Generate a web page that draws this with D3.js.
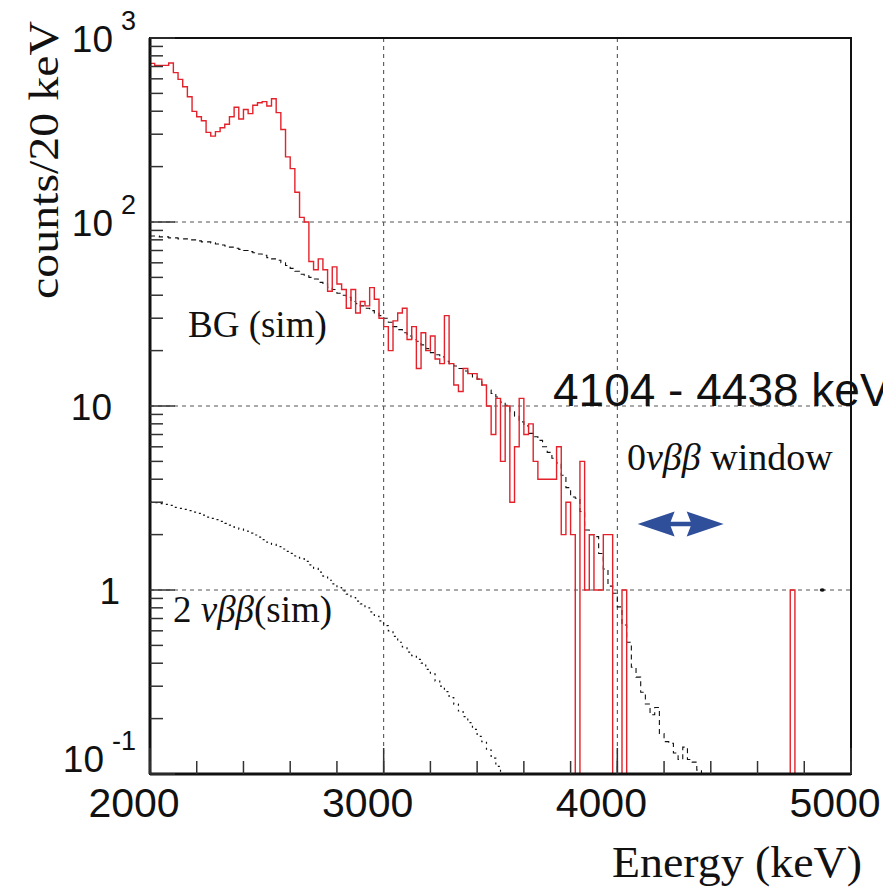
<!DOCTYPE html>
<html>
<head>
<meta charset="utf-8">
<script src="https://cdn.jsdelivr.net/npm/d3@7"></script>
<style>
  body { margin: 0; background: #fff; }
  svg { display: block; }
</style>
</head>
<body>
<div id="chart"></div>
<script>
// histogram binning (keV)
var binStart = 2000;
var binWidth = 20;

// measured spectrum, counts per 20 keV bin starting at 2000 keV
var redCounts = [
  728, 710, 710, 710, 731, 648, 596, 543, 479, 399,
  373, 355, 307, 293, 310, 325, 340, 373, 420, 363,
  409, 388, 431, 445, 451, 427, 468, 393, 318, 226,
  195, 145, 106, 100, 61, 55, 63, 55, 42, 57,
  46, 43, 34, 43, 32, 37, 35, 44, 38, 30,
  27, 20, 29, 32, 34, 23, 27, 16, 25, 20,
  24, 18, 17, 31, 17, 13, 12, 16, 15, 15,
  14, 13, 10, 7, 11, 5, 10, 3, 6, 11,
  7, 8, 5, 4, 4, 4, 4, 6, 2, 3,
  2, 0, 5, 1, 2, 1, 1, 2, 2, 0,
  0, 1, 0, 0, 0, 0, 0, 0, 0, 0,
  0, 0, 0, 0, 0, 0, 0, 0, 0, 0,
  0, 0, 0, 0, 0, 0, 0, 0, 0, 0,
  0, 0, 0, 0, 0, 0, 0, 1, 0, 0,
  0, 0, 0, 0, 0, 0, 0, 0, 0, 0
];

// simulated background (dashed)
var bgSim = [
  84, 84, 83, 83, 82, 82, 81, 81, 80, 80,
  79, 78, 78, 77, 76, 75, 74, 73, 72, 71,
  70, 69, 68, 67, 66, 64, 63, 62, 60, 58,
  56, 54, 52, 51, 50, 49, 47, 46, 44, 43,
  41, 40, 39, 37, 36, 35, 34, 33, 32, 31,
  30, 28.5, 27, 26, 25, 24, 23, 22.5, 21.5, 20.5,
  19.5, 19, 18.5, 17.5, 17, 16.5, 16, 15.5, 15, 14.4,
  14, 13, 12.2, 11.7, 11.2, 10.5, 10.1, 9.3, 8.8, 8.2,
  7.8, 7.1, 6.8, 6.5, 6.0, 5.6, 5.2, 4.9, 4.2, 3.6,
  3.2, 3.15, 2.67, 2.12, 2.0, 1.95, 1.58, 1.3, 1.05, 0.96,
  0.81, 0.645, 0.52, 0.38, 0.336, 0.278, 0.24, 0.21, 0.23, 0.166,
  0.15, 0.147, 0.13, 0.12, 0.14, 0.12, 0.116, 0.105, 0.10, 0.09
];

// simulated 2 neutrino double beta (dotted)
var twoNuSim = [
  3.0, 2.98, 2.95, 2.92, 2.88, 2.81, 2.78, 2.74, 2.70, 2.65,
  2.61, 2.55, 2.49, 2.45, 2.41, 2.36, 2.30, 2.25, 2.19, 2.14,
  2.09, 2.04, 1.99, 1.94, 1.88, 1.82, 1.77, 1.72, 1.67, 1.62,
  1.58, 1.53, 1.48, 1.43, 1.37, 1.31, 1.25, 1.19, 1.13, 1.08,
  1.03, 0.99, 0.95, 0.91, 0.87, 0.84, 0.80, 0.76, 0.72, 0.68,
  0.64, 0.60, 0.56, 0.52, 0.49, 0.46, 0.44, 0.42, 0.40, 0.37,
  0.35, 0.32, 0.30, 0.28, 0.26, 0.24, 0.22, 0.205, 0.19, 0.175,
  0.16, 0.15, 0.135, 0.122, 0.11, 0.10, 0.092
];

// axes
var xDomain = [2000, 5000];
var yDomain = [0.1, 1000];
var xMajorTicks = [2000, 3000, 4000, 5000];
var xTickLabels = ["2000", "3000", "4000", "5000"];
var yTickVals = [0.1, 1, 10, 100, 1000];
var yTickBase = ["10", "1", "10", "10", "10"];
var yTickSup = ["-1", "", "", "2", "3"];
var xGrid = [3000, 4000];
var yGrid = [1, 10, 100];

// 0vbb window
var windowRange = [4104, 4438];
var windowLabel = "4104 - 4438 keV";
var markerPoint = [4877, 1];

//----------------------------------------//

var svgWidth = 883;
var svgHeight = 892;

var margin = { top: 38, right: 32, bottom: 118, left: 150 };
var width = svgWidth - margin.left - margin.right;
var height = svgHeight - margin.top - margin.bottom;

var sans = "'Liberation Sans', Arial, Helvetica, sans-serif";
var serif = "'Liberation Serif', 'Times New Roman', Times, serif";

var svg = d3.select("#chart")
  .append("svg")
  .attr("width", svgWidth)
  .attr("height", svgHeight);

var chartGroup = svg.append("g")
  .attr("transform", `translate(${margin.left}, ${margin.top})`);

// Step 1: scales
var xScale = d3.scaleLinear().domain(xDomain).range([0, width]);
var yScale = d3.scaleLog().domain(yDomain).range([height, 0]);

chartGroup.append("clipPath")
  .attr("id", "plotClip")
  .append("rect")
  .attr("width", width)
  .attr("height", height);

// Step 2: grid
chartGroup.selectAll(".xgrid")
  .data(xGrid)
  .enter()
  .append("line")
  .attr("x1", d => xScale(d))
  .attr("x2", d => xScale(d))
  .attr("y1", 0)
  .attr("y2", height)
  .attr("stroke", "#444")
  .attr("stroke-dasharray", "4,4");

chartGroup.selectAll(".ygrid")
  .data(yGrid)
  .enter()
  .append("line")
  .attr("x1", 0)
  .attr("x2", width)
  .attr("y1", d => yScale(d))
  .attr("y2", d => yScale(d))
  .attr("stroke", "#555")
  .attr("stroke-dasharray", "4,4");

// Step 3: histograms drawn as steps
function stepPath(vals) {
  var pts = [];
  vals.forEach(function(v, i) {
    var e0 = binStart + i * binWidth;
    var yy = yScale(Math.max(v, 0.01));
    pts.push([xScale(e0), yy], [xScale(e0 + binWidth), yy]);
  });
  return d3.line()(pts);
}

var histGroup = chartGroup.append("g").attr("clip-path", "url(#plotClip)");

histGroup.append("path")
  .attr("d", stepPath(twoNuSim))
  .attr("fill", "none")
  .attr("stroke", "#111")
  .attr("stroke-width", 1.2)
  .attr("stroke-dasharray", "2,4");

histGroup.append("path")
  .attr("d", stepPath(bgSim))
  .attr("fill", "none")
  .attr("stroke", "#111")
  .attr("stroke-width", 1.1)
  .attr("stroke-dasharray", "5,4");

histGroup.append("path")
  .attr("d", stepPath(redCounts))
  .attr("fill", "none")
  .attr("stroke", "#e3222b")
  .attr("stroke-width", 1.4);

histGroup.append("ellipse")
  .attr("cx", xScale(markerPoint[0]))
  .attr("cy", yScale(markerPoint[1]))
  .attr("rx", 2.5)
  .attr("ry", 1.8)
  .attr("fill", "#111");

// Step 4: frame and ticks
chartGroup.append("rect")
  .attr("width", width)
  .attr("height", height)
  .attr("fill", "none")
  .attr("stroke", "#111")
  .attr("stroke-width", 2);

chartGroup.append("line")
  .attr("x1", 0).attr("x2", 0)
  .attr("y1", 0).attr("y2", height)
  .attr("stroke", "#111")
  .attr("stroke-width", 3);

chartGroup.append("line")
  .attr("x1", 0).attr("x2", width)
  .attr("y1", height).attr("y2", height)
  .attr("stroke", "#111")
  .attr("stroke-width", 3);

// minor ticks on y: 2..9 per decade
var yMinor = [];
yTickVals.slice(0, -1).forEach(function(d) {
  for (var k = 2; k <= 9; k++) yMinor.push(d * k);
});

chartGroup.selectAll(".yminor")
  .data(yMinor)
  .enter()
  .append("line")
  .attr("x1", 0).attr("x2", 13)
  .attr("y1", d => yScale(d))
  .attr("y2", d => yScale(d))
  .attr("stroke", "#333")
  .attr("stroke-width", 1.5);

chartGroup.selectAll(".ymajor")
  .data(yTickVals)
  .enter()
  .append("line")
  .attr("x1", 0).attr("x2", 25)
  .attr("y1", d => yScale(d))
  .attr("y2", d => yScale(d))
  .attr("stroke", "#333")
  .attr("stroke-width", 1.5);

var xMinor = d3.range(xDomain[0], xDomain[1] + 1, 200);

chartGroup.selectAll(".xminor")
  .data(xMinor)
  .enter()
  .append("line")
  .attr("x1", d => xScale(d))
  .attr("x2", d => xScale(d))
  .attr("y1", height)
  .attr("y2", height - 13)
  .attr("stroke", "#333")
  .attr("stroke-width", 1.5);

chartGroup.selectAll(".xmajor")
  .data(xMajorTicks)
  .enter()
  .append("line")
  .attr("x1", d => xScale(d))
  .attr("x2", d => xScale(d))
  .attr("y1", height)
  .attr("y2", height - 26)
  .attr("stroke", "#333")
  .attr("stroke-width", 1.5);

// Step 5: tick labels (drawn a little left of their tick, as in the original)
chartGroup.selectAll(".xlabel")
  .data(xMajorTicks)
  .enter()
  .append("text")
  .attr("x", d => xScale(d) - 16)
  .attr("y", height + 43)
  .attr("text-anchor", "middle")
  .attr("font-family", sans)
  .attr("font-size", 41)
  .attr("fill", "#111")
  .text((d, i) => xTickLabels[i]);

var yLabels = chartGroup.selectAll(".ylabel")
  .data(yTickVals)
  .enter()
  .append("text")
  .attr("x", (d, i) => yTickSup[i] ? -14 : (yTickBase[i] === "1" ? -30 : -38))
  .attr("y", d => Math.min(yScale(d) + 14, height - 2))
  .attr("text-anchor", "end")
  .attr("font-family", sans)
  .attr("font-size", 37)
  .attr("fill", "#111");

yLabels.append("tspan").text((d, i) => yTickBase[i]);
yLabels.append("tspan")
  .attr("dx", 8)
  .attr("dy", -22)
  .attr("font-size", 27)
  .text((d, i) => yTickSup[i]);

// Step 6: axis titles
svg.append("text")
  .attr("transform", "translate(58, 160) rotate(-90)")
  .attr("text-anchor", "middle")
  .attr("font-family", serif)
  .attr("font-size", 43)
  .attr("textLength", 278)
  .attr("lengthAdjust", "spacingAndGlyphs")
  .attr("fill", "#111")
  .text("counts/20 keV");

svg.append("text")
  .attr("x", 862)
  .attr("y", 877)
  .attr("text-anchor", "end")
  .attr("font-family", serif)
  .attr("font-size", 44)
  .attr("textLength", 250)
  .attr("lengthAdjust", "spacingAndGlyphs")
  .attr("fill", "#111")
  .text("Energy (keV)");

// Step 7: annotations
svg.append("text")
  .attr("x", 188)
  .attr("y", 337)
  .attr("font-family", serif)
  .attr("font-size", 37)
  .attr("fill", "#111")
  .text("BG (sim)");

var twoNu = svg.append("text")
  .attr("x", 173)
  .attr("y", 622)
  .attr("font-family", serif)
  .attr("font-size", 37)
  .attr("fill", "#111");
twoNu.append("tspan").text("2 ");
twoNu.append("tspan").attr("font-style", "italic").text("νββ");
twoNu.append("tspan").text("(sim)");

var zeroNu = svg.append("text")
  .attr("x", 627)
  .attr("y", 470)
  .attr("font-family", serif)
  .attr("font-size", 38)
  .attr("fill", "#111");
zeroNu.append("tspan").text("0");
zeroNu.append("tspan").attr("font-style", "italic").text("νββ");
zeroNu.append("tspan").text(" window");

svg.append("text")
  .attr("x", 553)
  .attr("y", 406)
  .attr("font-family", sans)
  .attr("font-size", 46)
  .attr("fill", "#111")
  .text(windowLabel);

// double arrow across the window
var ax0 = xScale(windowRange[0]) - 4;
var ax1 = xScale(windowRange[1]) + 4;
var ay = 486;
var head = 37, hh = 12.5, sh = 2.3;
var arrowPts = [
  [ax0, ay], [ax0 + head, ay - hh], [ax0 + head - 4, ay - sh],
  [ax1 - head + 4, ay - sh], [ax1 - head, ay - hh], [ax1, ay],
  [ax1 - head, ay + hh], [ax1 - head + 4, ay + sh],
  [ax0 + head - 4, ay + sh], [ax0 + head, ay + hh]
];

chartGroup.append("path")
  .attr("d", d3.line()(arrowPts) + "Z")
  .attr("fill", "#2f4f9b");
</script>
</body>
</html>
